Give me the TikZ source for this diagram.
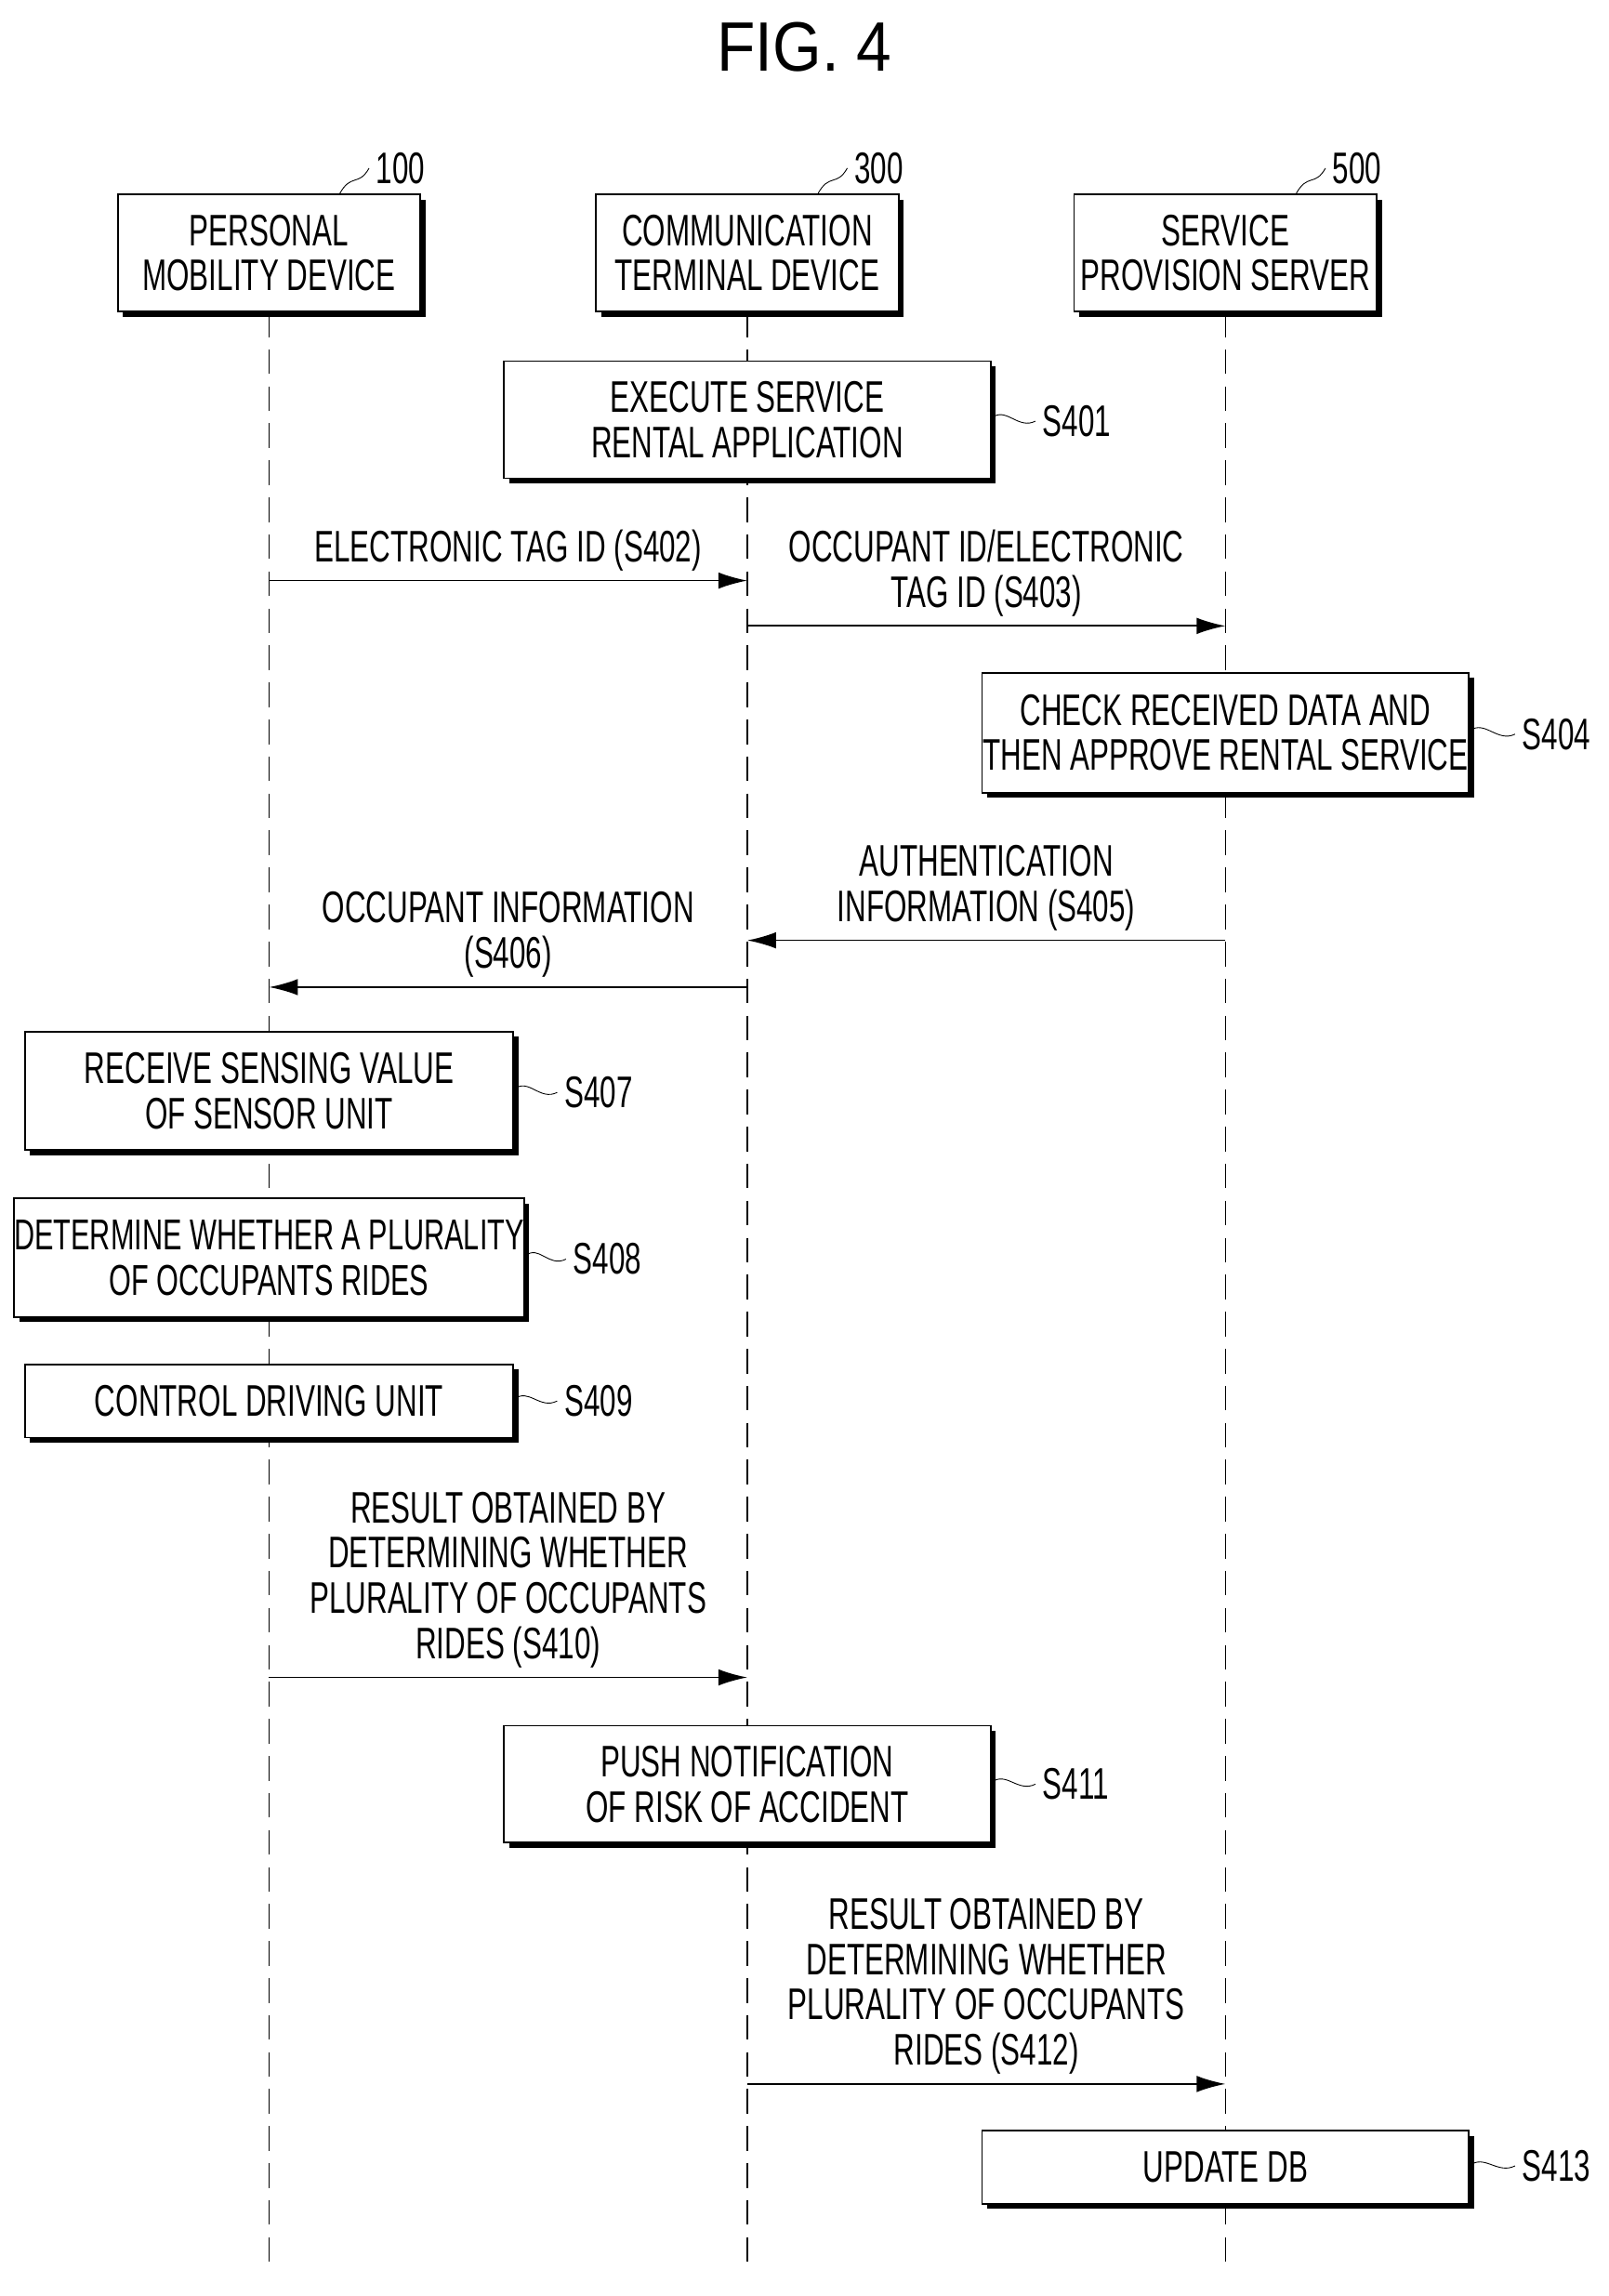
\documentclass[tikz,border=0pt]{standalone}
\usepackage{fontspec}
\setmainfont{Liberation Sans}[FakeStretch=0.66]
\newfontfamily\titlefont{Liberation Sans}[FakeStretch=0.9]
\usetikzlibrary{shadows,arrows.meta}
\begin{document}
\begin{tikzpicture}[x=0.025cm,y=-0.025cm,
  font=\fontsize{21.5}{22}\selectfont,
  bx/.style 2 args={draw,thick,fill=white,align=center,inner sep=0pt,
    minimum width=#1*0.025cm,minimum height=#2*0.025cm,
    drop shadow={shadow xshift=2.5pt,shadow yshift=-2.5pt,opacity=1,fill=black}},
  life/.style={dashed,thick,dash pattern=on 12pt off 6pt},
  msg/.style={thick,-{Latex[length=14pt,width=8pt]}},
  lead/.style={thin}]
\useasboundingbox (0,0) rectangle (1100,1570);
\node[font=\titlefont\fontsize{34}{40}\selectfont] (title) at (550,32) {FIG. 4};
% headers
\node[bx={207}{80}] (pm) at (184,173) {PERSONAL\\MOBILITY DEVICE};
\node[bx={207}{80}] (ct) at (511,173) {COMMUNICATION\\TERMINAL DEVICE};
\node[bx={207}{80}] (ss) at (838,173) {SERVICE\\PROVISION SERVER};
\node (l100) at (274,115) {100};
\node (l300) at (601,115) {300};
\node (l500) at (928,115) {500};
\draw[lead] (232,133) .. controls (240,118) and (245,128) .. (l100.west);
\draw[lead] (559,133) .. controls (567,118) and (572,128) .. (l300.west);
\draw[lead] (886,133) .. controls (894,118) and (899,128) .. (l500.west);
\coordinate (e1) at (184,1555);
\coordinate (e2) at (511,1555);
\coordinate (e3) at (838,1555);
\draw[life] (pm.south) -- (e1);
\draw[life] (ct.south) -- (e2);
\draw[life] (ss.south) -- (e3);
% boxes
\node[bx={333}{80}] (b401) at (511,287) {EXECUTE SERVICE\\RENTAL APPLICATION};
\node[bx={333}{82}] (b404) at (838,501) {CHECK RECEIVED DATA AND\\THEN APPROVE RENTAL SERVICE};
\node[bx={334}{81}] (b407) at (184,746) {RECEIVE SENSING VALUE\\OF SENSOR UNIT};
\node[bx={346}{81},font=\fontsize{21}{22}\selectfont] (b408) at (184,860) {DETERMINE WHETHER A PLURALITY\\OF OCCUPANTS RIDES};
\node[bx={334}{50}] (b409) at (184,958) {CONTROL DRIVING UNIT};
\node[bx={333}{80}] (b411) at (511,1220) {PUSH NOTIFICATION\\OF RISK OF ACCIDENT};
\node[bx={333}{50}] (b413) at (838,1482) {UPDATE DB};
% step labels
\node[anchor=west] (s401) at (708,288) {S401};
\node[anchor=west] (s404) at (1036,502) {S404};
\node[anchor=west] (s407) at (381,747) {S407};
\node[anchor=west] (s408) at (387,861) {S408};
\node[anchor=west] (s409) at (381,958) {S409};
\node[anchor=west] (s411) at (708,1220) {S411};
\node[anchor=west] (s413) at (1036,1481) {S413};
\foreach \b/\s in {b401/s401,b404/s404,b407/s407,b408/s408,b409/s409,b411/s411,b413/s413}{
  \draw[lead] ([yshift=0.03cm]\b.east) .. controls +(10,-8) and +(-12,6) .. (\s.west);}
% messages
\coordinate (a1) at (184,397); \coordinate (a2) at (511,397);
\draw[msg] (a1) -- (a2) node[midway,above=1pt] (m402) {ELECTRONIC TAG ID (S402)};
\coordinate (b1) at (511,428); \coordinate (b2) at (838,428);
\draw[msg] (b1) -- (b2) node[midway,above=1pt,align=center] (m403) {OCCUPANT ID/ELECTRONIC\\TAG ID (S403)};
\coordinate (c1) at (838,643); \coordinate (c2) at (511,643);
\draw[msg] (c1) -- (c2) node[midway,above=1pt,align=center] (m405) {AUTHENTICATION\\INFORMATION (S405)};
\coordinate (d1) at (511,675); \coordinate (d2) at (184,675);
\draw[msg] (d1) -- (d2) node[midway,above=1pt,align=center] (m406) {OCCUPANT INFORMATION\\(S406)};
\coordinate (f1) at (184,1147); \coordinate (f2) at (511,1147);
\draw[msg] (f1) -- (f2) node[midway,above=1pt,align=center] (m410) {RESULT OBTAINED BY\\DETERMINING WHETHER\\PLURALITY OF OCCUPANTS\\RIDES (S410)};
\coordinate (g1) at (511,1425); \coordinate (g2) at (838,1425);
\draw[msg] (g1) -- (g2) node[midway,above=1pt,align=center] (m412) {RESULT OBTAINED BY\\DETERMINING WHETHER\\PLURALITY OF OCCUPANTS\\RIDES (S412)};
\end{tikzpicture}
\end{document}
